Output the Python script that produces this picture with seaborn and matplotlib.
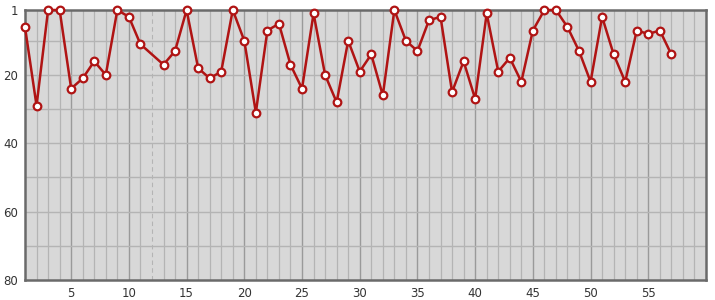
import numpy as np
import pandas as pd
import matplotlib
matplotlib.use("Agg")
import matplotlib.pyplot as plt
import seaborn as sns

# Data
x_vals = [1, 2, 3, 4, 5, 6, 7, 8, 9, 10, 11, 13, 14, 15, 16, 17, 18, 19, 20,
          21, 22, 23, 24, 25, 26, 27, 28, 29, 30, 31, 32, 33, 34, 35, 36, 37, 38, 39, 40,
          41, 42, 43, 44, 45, 46, 47, 48, 49, 50, 51, 52, 53, 54, 55, 56, 57]
y_vals = [6, 29, 1, 1, 24, 21, 16, 20, 1, 3, 11, 17, 13, 1, 18, 21, 19, 1, 10,
          31, 7, 5, 17, 24, 2, 20, 28, 10, 19, 14, 26, 1, 10, 13, 4, 3, 25, 16, 27,
          2, 19, 15, 22, 7, 1, 1, 6, 13, 22, 3, 14, 22, 7, 8, 7, 14]
x_ticks = [5, 10, 15, 20, 25, 30, 35, 40, 45, 50, 55]
y_ticks = [1, 20, 40, 60, 80]
y_minor = [10, 30, 50, 70]
missing_x = [12]

df = pd.DataFrame({"x": x_vals, "y": y_vals})

sns.set_style("white")
plt.rcParams['font.family'] = ['DejaVu Sans']

fig = plt.figure(figsize=(7.15, 3.0), dpi=100)
ax = fig.add_axes([25/715, 1 - 280/300, (706 - 25)/715, 270/300])
ax.set_facecolor("#d8d8d8")

ax.set_xlim(1, 60)
ax.set_ylim(80, 1)

# grid lines
xs = np.arange(2, 60)
for xv in xs:
    if xv in missing_x:
        ax.axvline(xv, color="#b4b4b4", lw=0.8, ls=(0, (4, 3)), zorder=1)
    elif xv % 5 == 0:
        ax.axvline(xv, color="#9a9a9a", lw=1.0, zorder=1)
    else:
        ax.axvline(xv, color="#b4b4b4", lw=0.9, zorder=1)
for yv in y_minor + [20, 40, 60]:
    ax.axhline(yv, color="#b4b4b4", lw=1.0, zorder=1)

sns.lineplot(data=df, x="x", y="y", ax=ax, sort=False, color="#b01414",
             lw=1.8, marker="o", markersize=5.5, markerfacecolor="white",
             markeredgecolor="#b01414", markeredgewidth=1.6, zorder=5, clip_on=False)

ax.set_xticks(x_ticks)
ax.set_yticks(y_ticks)
ax.tick_params(axis="both", length=0, labelsize=8.5, colors="#333333", pad=5)
ax.set_xlabel("")
ax.set_ylabel("")

for side in ["left", "bottom", "top", "right"]:
    ax.spines[side].set_visible(True)
    ax.spines[side].set_color("#6a6a6a")
    ax.spines[side].set_linewidth(1.8)

fig.savefig("out.png", dpi=100)
